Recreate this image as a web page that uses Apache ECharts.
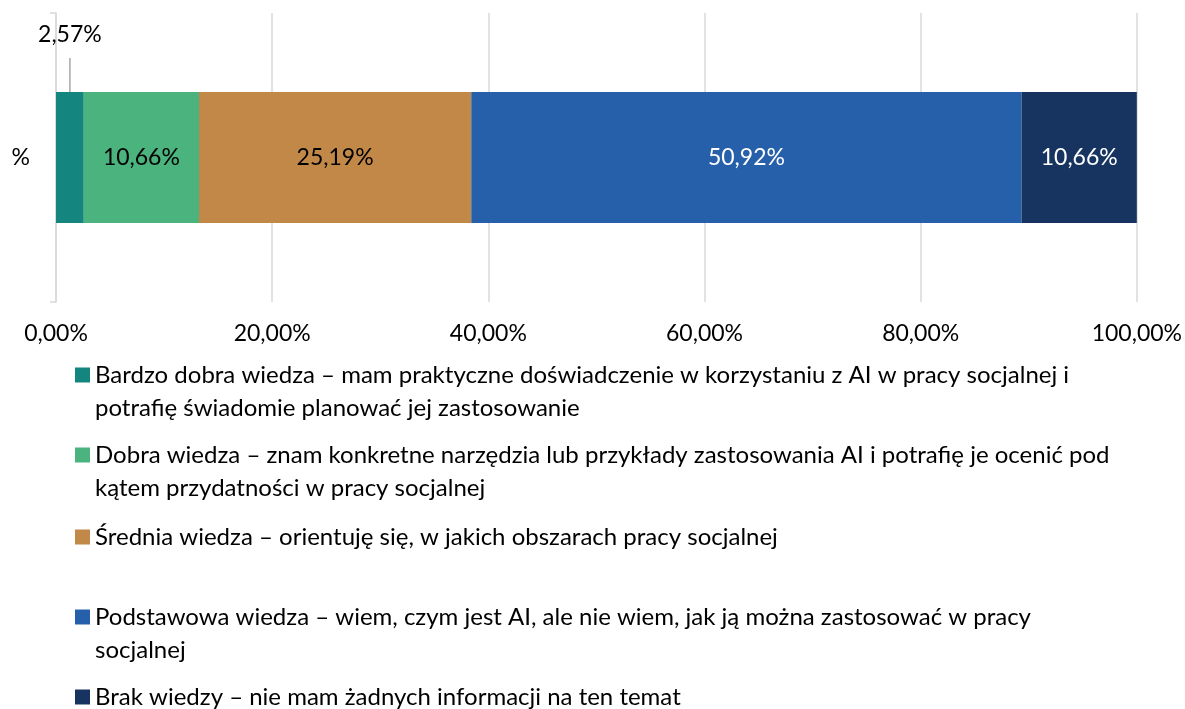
<!DOCTYPE html>
<html>
<head>
<meta charset="utf-8">
<script src="https://cdn.jsdelivr.net/npm/echarts@6/dist/echarts.min.js"></script>
<style>
  html, body { margin: 0; padding: 0; background: #fff; }
  #chart { width: 1185px; height: 709px; }
</style>
</head>
<body>
<div id="chart"></div>
<script>
// dane wykresu
const categories = ['%'];
const seriesNames = [
  'Bardzo dobra wiedza – mam praktyczne doświadczenie w korzystaniu z AI w pracy socjalnej i potrafię świadomie planować jej zastosowanie',
  'Dobra wiedza – znam konkretne narzędzia lub przykłady zastosowania AI i potrafię je ocenić pod kątem przydatności w pracy socjalnej',
  'Średnia wiedza – orientuję się, w jakich obszarach pracy socjalnej',
  'Podstawowa wiedza – wiem, czym jest AI, ale nie wiem, jak ją można zastosować w pracy socjalnej',
  'Brak wiedzy – nie mam żadnych informacji na ten temat'
];
// podział tekstu legendy na linie
const legendLines = [
  ['Bardzo dobra wiedza – mam praktyczne doświadczenie w korzystaniu z AI w pracy socjalnej i', 'potrafię świadomie planować jej zastosowanie'],
  ['Dobra wiedza – znam konkretne narzędzia lub przykłady zastosowania AI i potrafię je ocenić pod', 'kątem przydatności w pracy socjalnej'],
  ['Średnia wiedza – orientuję się, w jakich obszarach pracy socjalnej'],
  ['Podstawowa wiedza – wiem, czym jest AI, ale nie wiem, jak ją można zastosować w pracy', 'socjalnej'],
  ['Brak wiedzy – nie mam żadnych informacji na ten temat']
];
const values = [2.57, 10.66, 25.19, 50.92, 10.66];
const xTicks = [0, 20, 40, 60, 80, 100];

const colors = ['#158580', '#4ab37e', '#c28848', '#2760aa', '#173460'];
const labelColors = ['#000', '#000', '#000', '#fff', '#fff'];
const FONT = 'Lato';

const fmt = v => v.toFixed(2).replace('.', ',') + '%';

const chart = echarts.init(document.getElementById('chart'));

// środki pierwszych linii kolejnych pozycji legendy
const legendCenters = [375, 455, 537, 617, 697];
const LH = 33;

const legends = seriesNames.map((name, i) => {
  const multi = legendLines[i].length > 1;
  return {
    data: [name],
    left: 75,
    // przy dwóch liniach pusta linia na początku, żeby ikona stała przy pierwszej
    top: legendCenters[i] - (multi ? LH * 1.5 : LH / 2),
    padding: 0,
    itemWidth: 15,
    itemHeight: 15,
    icon: 'rect',
    selectedMode: false,
    formatter: () => (multi ? '\n' : '') + legendLines[i].join('\n'),
    textStyle: { fontFamily: FONT, fontSize: 24, color: '#000', lineHeight: LH }
  };
});

const series = seriesNames.map((name, i) => {
  const s = {
    name: name,
    type: 'bar',
    stack: 'total',
    barWidth: 131,
    data: [values[i]],
    itemStyle: { color: colors[i] },
    label: {
      show: true,
      position: 'inside',
      formatter: p => fmt(p.value),
      fontFamily: FONT,
      fontSize: 23,
      color: labelColors[i]
    }
  };
  if (i === 0) {
    // etykieta nad słupkiem z linią odniesienia
    s.label.position = 'top';
    s.label.distance = 0;
    s.label.formatter = p => '{t|' + fmt(p.value) + '}\n{l| }';
    s.label.rich = {
      t: { fontFamily: FONT, fontSize: 23, color: '#000', lineHeight: 46 },
      l: { width: 1.5, height: 34, backgroundColor: '#a6a6a6', fontSize: 1, lineHeight: 34 }
    };
  }
  return s;
});

const option = {
  animation: false,
  backgroundColor: '#fff',
  grid: { left: 56, right: 48, top: 13, height: 289 },
  xAxis: {
    type: 'value',
    min: xTicks[0],
    max: xTicks[xTicks.length - 1],
    interval: 20,
    axisLine: { show: false },
    axisTick: { show: false },
    axisLabel: { formatter: v => fmt(v), fontFamily: FONT, fontSize: 23, color: '#000', margin: 20 },
    splitLine: { lineStyle: { color: '#d9d9d9', width: 1.5 } }
  },
  yAxis: {
    type: 'category',
    data: categories,
    axisLine: { lineStyle: { color: '#d9d9d9', width: 1.5 } },
    axisTick: { show: true, length: 6, lineStyle: { color: '#d9d9d9', width: 1.5 } },
    axisLabel: { fontFamily: FONT, fontSize: 23, color: '#000', margin: 26 }
  },
  legend: legends,
  series: series
};

chart.setOption(option);
</script>
</body>
</html>
